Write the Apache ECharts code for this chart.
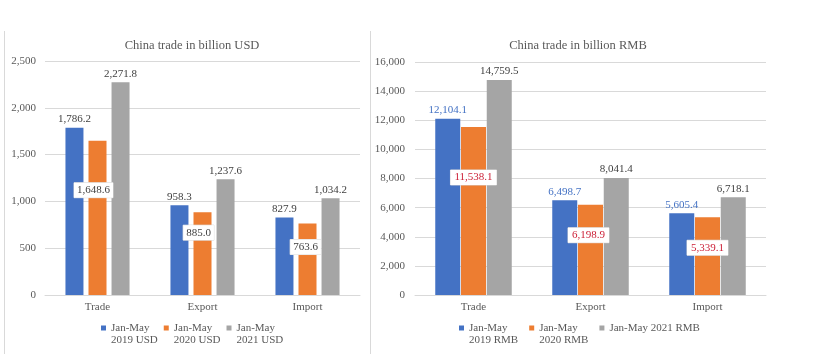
<!DOCTYPE html>
<html>
<head>
<meta charset="utf-8">
<script src="https://cdn.jsdelivr.net/npm/echarts@6/dist/echarts.min.js"></script>
<style>
  html, body { margin: 0; padding: 0; background: #fff; }
  #chart { width: 814px; height: 354px; }
</style>
</head>
<body>
<div id="chart"></div>
<script>
  // data
  const categories = ['Trade', 'Export', 'Import']
  const usd2019 = [1786.2, 958.3, 827.9]
  const usd2020 = [1648.6, 885.0, 763.6]
  const usd2021 = [2271.8, 1237.6, 1034.2]
  const rmb2019 = [12104.1, 6498.7, 5605.4]
  const rmb2020 = [11538.1, 6198.9, 5339.1]
  const rmb2021 = [14759.5, 8041.4, 6718.1]
  const usdNames = ['Jan-May\n2019 USD', 'Jan-May\n2020 USD', 'Jan-May\n2021 USD']
  const rmbNames = ['Jan-May\n2019 RMB', 'Jan-May\n2020 RMB', 'Jan-May 2021 RMB']

  // where the boxed 2020 labels sit (offset from bar top)
  const usdBoxShift = [[-4, 42], [-4, 13], [-2, 16]]
  const rmbBoxShift = [[0, 43], [-2, 23], [0, 23]]

  const font = 'Liberation Serif'
  const colors = ['#4472C4', '#ED7D31', '#A5A5A5']
  const fmt = v => Number(v).toLocaleString('en-US', { minimumFractionDigits: 1, maximumFractionDigits: 1 })
  const axisFmt = v => Number(v).toLocaleString('en-US')

  const chart = echarts.init(document.getElementById('chart'))

  function topSeries(name, data, idx, color, labelColor, width, gap) {
    return {
      name: name,
      type: 'bar',
      xAxisIndex: idx,
      yAxisIndex: idx,
      barWidth: width,
      barGap: gap,
      itemStyle: { color: color },
      label: {
        show: true,
        position: 'top',
        distance: 3,
        fontFamily: font,
        fontSize: 11,
        color: labelColor,
        formatter: p => fmt(p.value)
      },
      data: data
    }
  }

  function boxSeries(name, data, shift, idx, labelColor, width, gap, pad) {
    return {
      name: name,
      type: 'bar',
      xAxisIndex: idx,
      yAxisIndex: idx,
      barWidth: width,
      barGap: gap,
      itemStyle: { color: colors[1] },
      label: {
        show: true,
        position: 'insideTop',
        distance: 0,
        fontFamily: font,
        fontSize: 11,
        color: labelColor,
        backgroundColor: '#fff',
        borderColor: '#d9d9d9',
        borderWidth: 0.5,
        padding: pad,
        formatter: p => fmt(p.value)
      },
      data: data.map((v, i) => ({ value: v, label: { offset: shift[i] } }))
    }
  }

  const gridLine = { lineStyle: { color: '#d9d9d9', width: 1 } }
  const axisText = { fontFamily: font, fontSize: 11, color: '#595959' }

  chart.setOption({
    animation: false,
    title: [
      { text: 'China trade in billion USD', left: 187, top: 34, textAlign: 'center',
        textStyle: { fontFamily: font, fontSize: 12.5, fontWeight: 'normal', color: '#595959' } },
      { text: 'China trade in billion RMB', left: 573, top: 34, textAlign: 'center',
        textStyle: { fontFamily: font, fontSize: 12.5, fontWeight: 'normal', color: '#595959' } }
    ],
    legend: [
      {
        data: usdNames,
        left: 96,
        top: 305,
        itemWidth: 5,
        itemHeight: 5,
        itemGap: 6,
        icon: 'rect',
        formatter: n => '\n' + n,
        textStyle: { fontFamily: font, fontSize: 11, color: '#595959', lineHeight: 12 }
      },
      {
        data: rmbNames,
        left: 454,
        top: 305,
        itemWidth: 5,
        itemHeight: 5,
        itemGap: 11,
        icon: 'rect',
        formatter: n => n.indexOf('\n') >= 0 ? '\n' + n : n,
        textStyle: { fontFamily: font, fontSize: 11, color: '#595959', lineHeight: 12 }
      }
    ],
    grid: [
      { left: 45, right: 454, top: 61, bottom: 59 },
      { left: 415, right: 48, top: 62, bottom: 59 }
    ],
    xAxis: [0, 1].map(i => ({
      type: 'category',
      gridIndex: i,
      data: categories,
      axisLine: gridLine,
      axisTick: { show: false },
      axisLabel: Object.assign({ margin: 7 }, axisText)
    })),
    yAxis: [
      { type: 'value', gridIndex: 0, min: 0, max: 2500, interval: 500,
        splitLine: gridLine, axisLine: { show: false }, axisTick: { show: false },
        axisLabel: Object.assign({ margin: 9, formatter: axisFmt }, axisText) },
      { type: 'value', gridIndex: 1, min: 0, max: 16000, interval: 2000,
        splitLine: gridLine, axisLine: { show: false }, axisTick: { show: false },
        axisLabel: Object.assign({ margin: 10, formatter: axisFmt }, axisText) }
    ],
    series: [
      topSeries(usdNames[0], usd2019, 0, colors[0], '#404040', 18, '28%'),
      boxSeries(usdNames[1], usd2020, usdBoxShift, 0, '#404040', 18, '28%', [2, 3]),
      topSeries(usdNames[2], usd2021, 0, colors[2], '#404040', 18, '28%'),
      topSeries(rmbNames[0], rmb2019, 1, colors[0], '#4472C4', 25, '3%'),
      boxSeries(rmbNames[1], rmb2020, rmbBoxShift, 1, '#cc1f36', 25, '3%', [2, 4]),
      topSeries(rmbNames[2], rmb2021, 1, colors[2], '#404040', 25, '3%')
    ],
    graphic: [
      { type: 'line', shape: { x1: 4.5, y1: 31, x2: 4.5, y2: 354 }, style: { stroke: '#d9d9d9', lineWidth: 1 } },
      { type: 'line', shape: { x1: 370.5, y1: 31, x2: 370.5, y2: 354 }, style: { stroke: '#d9d9d9', lineWidth: 1 } }
    ]
  })
</script>
</body>
</html>
